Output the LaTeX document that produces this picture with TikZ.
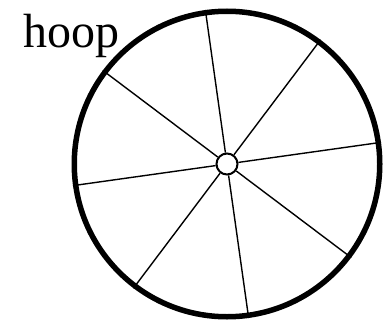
\documentclass[tikz,border=0pt]{standalone}
\usepackage{fontspec}
\setmainfont{Liberation Serif}
\begin{document}
\begin{tikzpicture}[x=1pt,y=-1pt,
  rim/.style={circle, draw, line width=5.5pt, minimum size=305.5pt, inner sep=0pt},
  hubnode/.style={circle, draw, fill=white, line width=2pt, minimum size=21pt, inner sep=0pt},
  spoke/.style={line width=1.4pt}]
\useasboundingbox (0,0) rectangle (385,321);
\coordinate (c) at (227,164);
\node[rim] (hoop) at (c) {};
\node[hubnode] (hub) at (c) {};
\foreach \a in {8.5,53.5,98.5,143.5,188.5,233.5,278.5,323.5}{
  \draw[spoke] (hub.\a) -- (hoop.\a);
}
\node[anchor=base west, inner sep=0pt, font=\fontsize{48}{48}\selectfont] (label) at (23,48) {hoop};
\end{tikzpicture}
\end{document}
